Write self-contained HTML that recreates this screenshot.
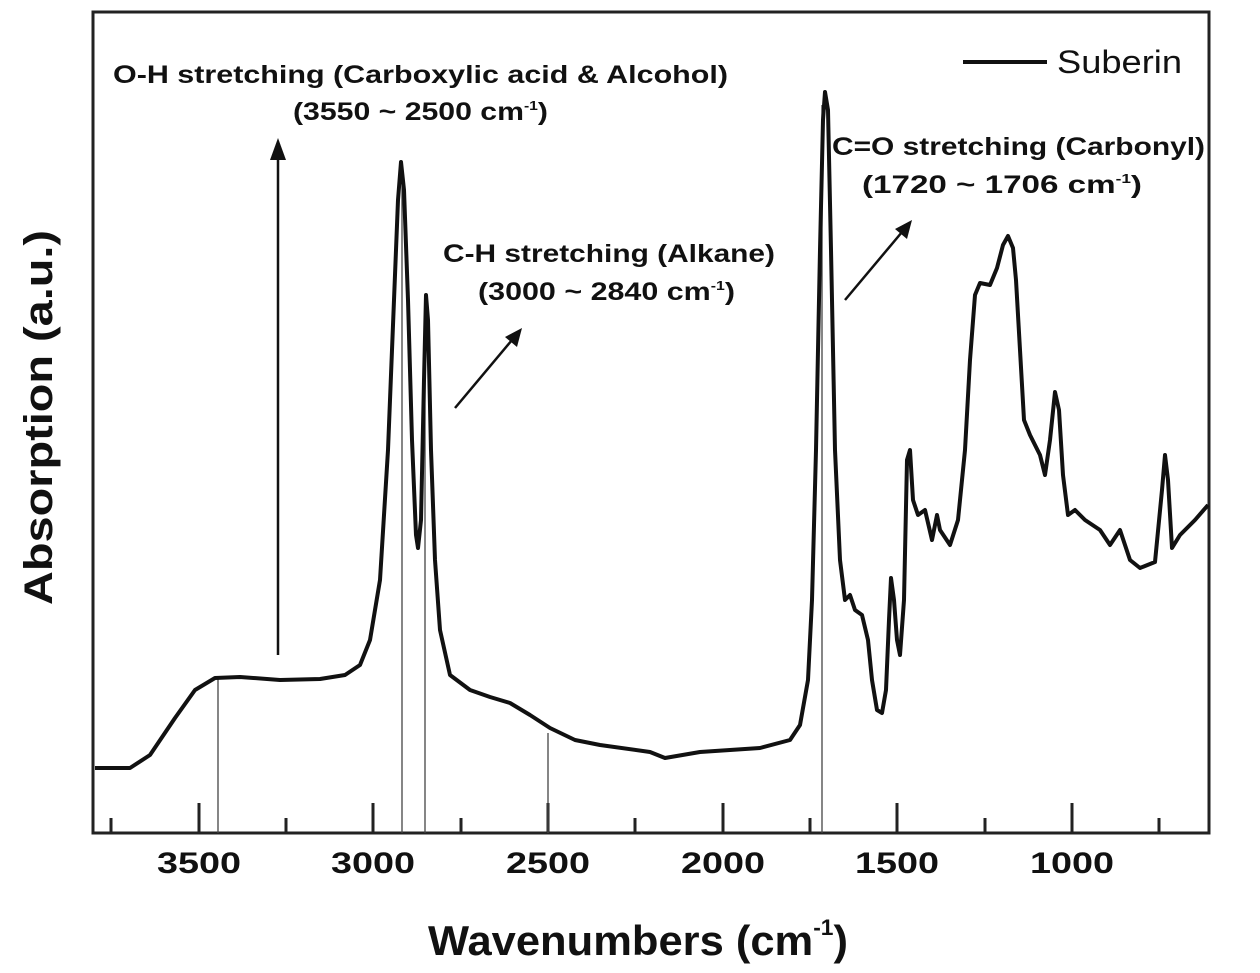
<!DOCTYPE html>
<html><head><meta charset="utf-8"><style>
html,body{margin:0;padding:0;background:#fff;}
svg{display:block;}
text{font-family:"Liberation Sans",Arial,sans-serif;font-weight:bold;fill:#111;}
</style></head><body>
<svg width="1260" height="973" viewBox="0 0 1260 973" xmlns="http://www.w3.org/2000/svg">
<rect x="93" y="12" width="1116" height="821" fill="none" stroke="#222" stroke-width="3"/>
<g stroke="#222" stroke-width="3">
<line x1="111" y1="833" x2="111" y2="818"/>
<line x1="199" y1="833" x2="199" y2="803"/>
<line x1="286" y1="833" x2="286" y2="818"/>
<line x1="373" y1="833" x2="373" y2="803"/>
<line x1="461" y1="833" x2="461" y2="818"/>
<line x1="548" y1="833" x2="548" y2="803"/>
<line x1="635" y1="833" x2="635" y2="818"/>
<line x1="723" y1="833" x2="723" y2="803"/>
<line x1="810" y1="833" x2="810" y2="818"/>
<line x1="897" y1="833" x2="897" y2="803"/>
<line x1="985" y1="833" x2="985" y2="818"/>
<line x1="1072" y1="833" x2="1072" y2="803"/>
<line x1="1159" y1="833" x2="1159" y2="818"/>
</g>
<g stroke="#444" stroke-width="1.3">
<line x1="218" y1="678" x2="218" y2="833"/>
<line x1="402" y1="165" x2="402" y2="833"/>
<line x1="425" y1="298" x2="425" y2="833"/>
<line x1="548" y1="733" x2="548" y2="833"/>
<line x1="822" y1="105" x2="822" y2="833"/>
</g>
<polyline fill="none" stroke="#111" stroke-width="4" stroke-linejoin="round" points="95,768 130,768 150,755 175,718 195,690 215,678 240,677 280,680 320,679 345,675 360,665 370,640 380,580 388,450 394,300 398,200 401,162 404,190 408,300 412,440 416,535 418,548 421,520 424,380 426,295 428,320 431,450 435,560 440,630 450,675 470,690 490,697 510,703 530,715 550,728 575,740 600,745 650,752 665,758 700,752 760,748 790,740 800,725 808,680 812,600 816,450 820,250 823,120 825,92 828,110 831,250 835,450 840,560 845,600 850,595 855,610 862,615 868,640 872,680 877,710 882,713 886,690 889,620 891,578 894,600 897,640 900,655 904,600 907,460 910,450 913,500 918,515 925,510 932,540 937,515 940,530 950,545 958,520 965,450 970,360 975,295 980,283 990,285 997,268 1003,245 1008,236 1013,248 1016,280 1020,350 1024,420 1030,435 1040,455 1045,475 1050,440 1055,392 1059,410 1063,475 1068,515 1075,510 1085,520 1100,530 1110,545 1120,530 1125,545 1130,560 1140,568 1155,562 1162,490 1165,455 1168,480 1172,548 1180,535 1195,520 1208,505"/>
<!-- arrows -->
<g stroke="#111" stroke-width="2.5">
<line x1="278" y1="655" x2="278" y2="158"/>
<line x1="455" y1="408" x2="512" y2="340"/>
<line x1="845" y1="300" x2="902" y2="232"/>
</g>
<polygon points="278,138 270,160 286,160" fill="#111"/>
<polygon points="522,328 505,337 517,347" fill="#111"/>
<polygon points="912,220 895,229 907,239" fill="#111"/>
<!-- legend -->
<line x1="963" y1="62" x2="1047" y2="62" stroke="#111" stroke-width="4"/>
<text x="1057" y="73" font-size="32" style="font-weight:normal" fill="#333" textLength="125" lengthAdjust="spacingAndGlyphs">Suberin</text>
<!-- annotations -->
<text x="113" y="83" font-size="25" textLength="615" lengthAdjust="spacingAndGlyphs">O-H stretching (Carboxylic acid &amp; Alcohol)</text>
<text x="293" y="120" font-size="25" textLength="255" lengthAdjust="spacingAndGlyphs">(3550 ~ 2500 cm<tspan font-size="13" dy="-10">-1</tspan><tspan dy="10">)</tspan></text>
<text x="443" y="262" font-size="25" textLength="332" lengthAdjust="spacingAndGlyphs">C-H stretching (Alkane)</text>
<text x="478" y="300" font-size="25" textLength="257" lengthAdjust="spacingAndGlyphs">(3000 ~ 2840 cm<tspan font-size="13" dy="-10">-1</tspan><tspan dy="10">)</tspan></text>
<text x="832" y="155" font-size="25" textLength="373" lengthAdjust="spacingAndGlyphs">C=O stretching (Carbonyl)</text>
<text x="862" y="193" font-size="25" textLength="280" lengthAdjust="spacingAndGlyphs">(1720 ~ 1706 cm<tspan font-size="13" dy="-10">-1</tspan><tspan dy="10">)</tspan></text>
<!-- tick labels -->
<g font-size="30" text-anchor="middle">
<text x="199" y="873" textLength="84" lengthAdjust="spacingAndGlyphs">3500</text>
<text x="373" y="873" textLength="84" lengthAdjust="spacingAndGlyphs">3000</text>
<text x="548" y="873" textLength="84" lengthAdjust="spacingAndGlyphs">2500</text>
<text x="723" y="873" textLength="84" lengthAdjust="spacingAndGlyphs">2000</text>
<text x="897" y="873" textLength="84" lengthAdjust="spacingAndGlyphs">1500</text>
<text x="1072" y="873" textLength="84" lengthAdjust="spacingAndGlyphs">1000</text>
</g>
<text x="428" y="955" font-size="42" textLength="420" lengthAdjust="spacingAndGlyphs">Wavenumbers (cm<tspan font-size="22" dy="-20">-1</tspan><tspan dy="20">)</tspan></text>
<text transform="translate(52,605) rotate(-90)" font-size="40" textLength="375" lengthAdjust="spacingAndGlyphs">Absorption (a.u.)</text>
</svg>
</body></html>
